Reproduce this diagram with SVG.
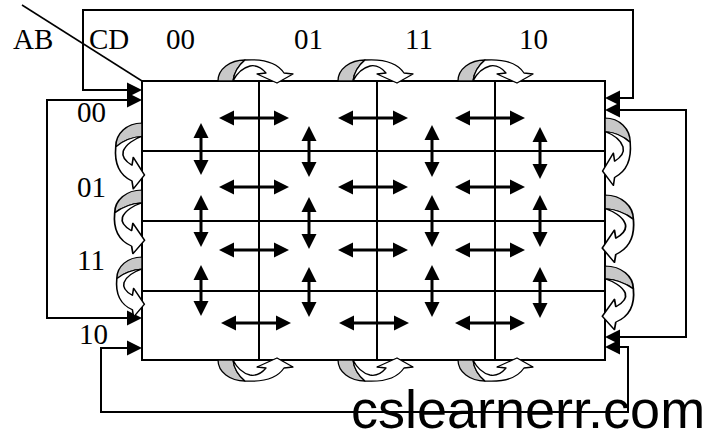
<svg xmlns="http://www.w3.org/2000/svg" xmlns:xlink="http://www.w3.org/1999/xlink" width="717" height="439" viewBox="0 0 717 439">
  <style>
    .lbl { font-family: "Liberation Serif", "Times New Roman", serif; font-size: 29px; fill: #000; }
    .wm { font-family: "Liberation Sans", Arial, sans-serif; font-size: 54px; fill: #000; }
    .grid { fill: none; stroke: #000; stroke-width: 2; }
    .loop { fill: none; stroke: #000; stroke-width: 2; marker-start: url(#ah); marker-end: url(#ah); }
    .dbl { stroke: #000; stroke-width: 3; marker-start: url(#ah); marker-end: url(#ah); }
    .back { fill: #c8c8c8; stroke: #000; stroke-width: 1.3; stroke-linejoin: round; }
    .front { fill: #fff; stroke: #000; stroke-width: 1.3; stroke-linejoin: round; }
  </style>
  <defs>
    <marker id="ah" markerUnits="userSpaceOnUse" markerWidth="15" markerHeight="15" refX="0" refY="7.5" orient="auto-start-reverse" overflow="visible">
      <path d="M0,0 L15,7.5 L0,15 Z" fill="#000"/>
    </marker>
    <!-- curved block arrow: shaded back leg on the left, front band arching to a head on the right -->
    <g id="curl">
      <path class="back" d="M0,0 C0,-12 12,-21 27,-21 C21,-16 16,-9 15,0 Z"/>
      <path class="front" d="M15,0 C16,-9 21,-16 27,-21 C42,-22 58,-20 66,-8 L75,-7 L59,2 L39,-7 L48,-8 C43,-14 37,-16 32,-15 C24,-13 18,-6 15,0 Z"/>
    </g>
  </defs>

  <rect width="717" height="439" fill="#fff"/>

  <!-- corner header -->
  <g id="header">
    <line x1="22" y1="5" x2="142" y2="81" stroke="#000" stroke-width="1.5"/>
    <text class="lbl" x="13" y="49">AB</text>
    <text class="lbl" x="89" y="49">CD</text>
  </g>

  <!-- column labels -->
  <g id="col-labels">
    <text class="lbl" x="166" y="49">00</text>
    <text class="lbl" x="294" y="49">01</text>
    <text class="lbl" x="405" y="49">11</text>
    <text class="lbl" x="519" y="49">10</text>
  </g>

  <!-- row labels -->
  <g id="row-labels">
    <text class="lbl" x="77" y="122">00</text>
    <text class="lbl" x="77" y="197">01</text>
    <text class="lbl" x="77" y="270">11</text>
    <text class="lbl" x="79" y="344">10</text>
  </g>

  <!-- the 4x4 map -->
  <g id="kmap">
    <rect class="grid" x="142" y="81" width="463" height="279"/>
    <line class="grid" x1="259" y1="81" x2="259" y2="360"/>
    <line class="grid" x1="377" y1="81" x2="377" y2="360"/>
    <line class="grid" x1="495" y1="81" x2="495" y2="360"/>
    <line class="grid" x1="142" y1="151" x2="605" y2="151"/>
    <line class="grid" x1="142" y1="221" x2="605" y2="221"/>
    <line class="grid" x1="142" y1="291" x2="605" y2="291"/>
  </g>

  <!-- wrap-around connectors -->
  <g id="connectors">
    <path class="loop" d="M127,90 H83 V10 H633 V98 H620"/>
    <path class="loop" d="M127,100 H47 V318 H127"/>
    <path class="loop" d="M620,110 H686 V337 H620"/>
    <path class="loop" d="M127,348 H101 V412 H628 V347 H620"/>

    <!-- horizontal adjacency arrows -->
    <g id="h-arrows">
      <line class="dbl" x1="234" y1="118" x2="274" y2="118"/>
      <line class="dbl" x1="353" y1="118" x2="393" y2="118"/>
      <line class="dbl" x1="470" y1="118" x2="510" y2="118"/>
      <line class="dbl" x1="234" y1="187" x2="274" y2="187"/>
      <line class="dbl" x1="353" y1="187" x2="393" y2="187"/>
      <line class="dbl" x1="470" y1="187" x2="510" y2="187"/>
      <line class="dbl" x1="234" y1="250" x2="274" y2="250"/>
      <line class="dbl" x1="353" y1="250" x2="393" y2="250"/>
      <line class="dbl" x1="470" y1="250" x2="510" y2="250"/>
      <line class="dbl" x1="236" y1="323" x2="276" y2="323"/>
      <line class="dbl" x1="354" y1="323" x2="394" y2="323"/>
      <line class="dbl" x1="470" y1="323" x2="510" y2="323"/>
    </g>

    <!-- vertical adjacency arrows -->
    <g id="v-arrows">
      <line class="dbl" x1="201" y1="138" x2="201" y2="160"/>
      <line class="dbl" x1="309" y1="141" x2="309" y2="162"/>
      <line class="dbl" x1="432" y1="140" x2="432" y2="162"/>
      <line class="dbl" x1="540" y1="142" x2="540" y2="164"/>
      <line class="dbl" x1="201" y1="210" x2="201" y2="232"/>
      <line class="dbl" x1="309" y1="212" x2="309" y2="234"/>
      <line class="dbl" x1="432" y1="210" x2="432" y2="232"/>
      <line class="dbl" x1="540" y1="210" x2="540" y2="232"/>
      <line class="dbl" x1="201" y1="280" x2="201" y2="301"/>
      <line class="dbl" x1="309" y1="282" x2="309" y2="302"/>
      <line class="dbl" x1="432" y1="280" x2="432" y2="302"/>
      <line class="dbl" x1="540" y1="282" x2="540" y2="303"/>
    </g>

    <!-- curved arrows along the top edge -->
    <use xlink:href="#curl" transform="translate(218,81)"/>
    <use xlink:href="#curl" transform="translate(338,81)"/>
    <use xlink:href="#curl" transform="translate(458,81)"/>

    <!-- curved arrows along the bottom edge -->
    <use xlink:href="#curl" transform="matrix(1,0,0,-1,218,360)"/>
    <use xlink:href="#curl" transform="matrix(1,0,0,-1,338,360)"/>
    <use xlink:href="#curl" transform="matrix(1,0,0,-1,458,360)"/>

    <!-- curved arrows along the left edge -->
    <use xlink:href="#curl" transform="matrix(0,0.88,1.25,0,142,123)"/>
    <use xlink:href="#curl" transform="matrix(0,0.85,1.3,0,142,190)"/>
    <use xlink:href="#curl" transform="matrix(0,0.8,1.2,0,142,257)"/>

    <!-- curved arrows along the right edge -->
    <use xlink:href="#curl" transform="matrix(0,0.9,-1.2,0,605,118)"/>
    <use xlink:href="#curl" transform="matrix(0,0.9,-1.35,0,605,195)"/>
    <use xlink:href="#curl" transform="matrix(0,0.85,-1.35,0,605,266)"/>
  </g>

  <text class="wm" x="351" y="428">cslearnerr.com</text>
</svg>
